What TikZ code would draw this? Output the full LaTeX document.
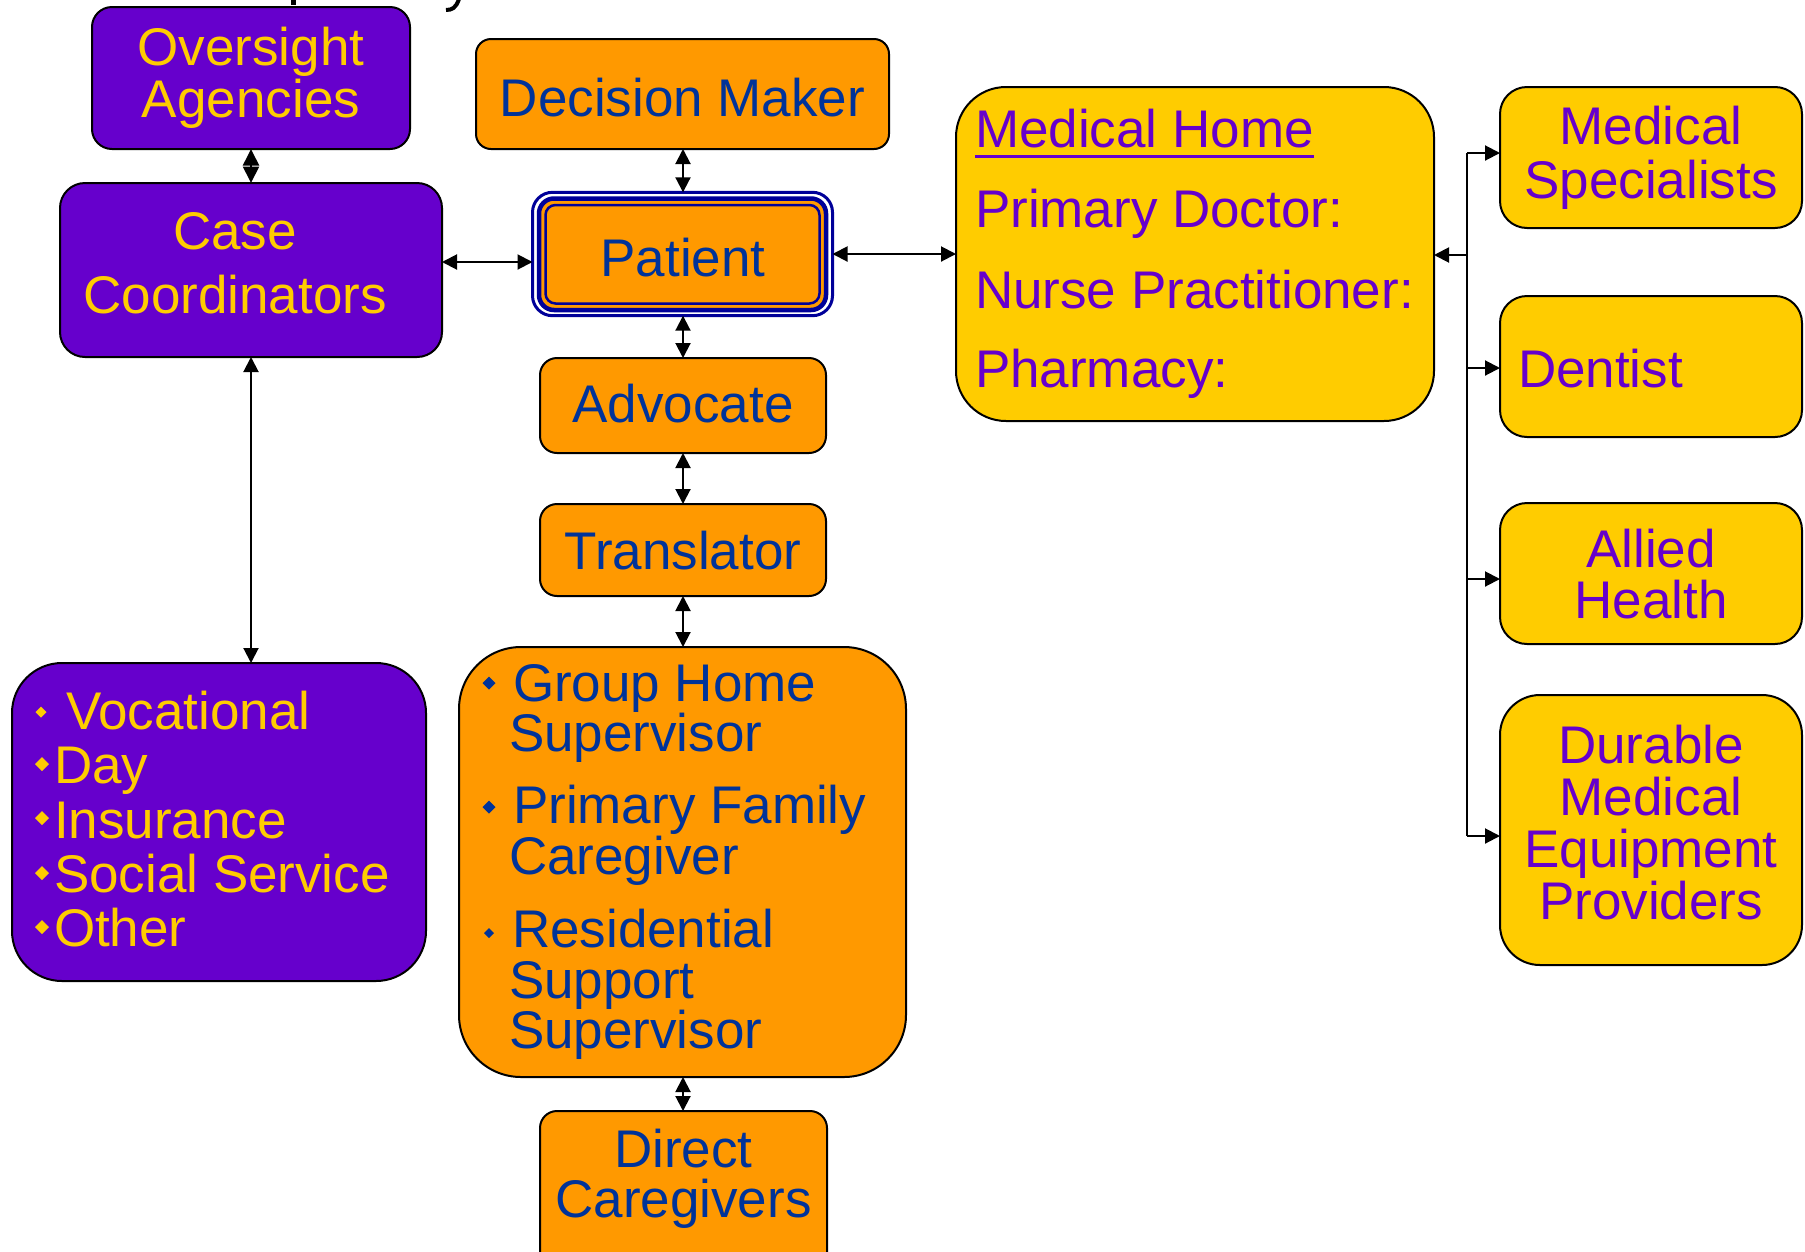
\documentclass[tikz,border=0pt]{standalone}
\usepackage{fontspec}
\setmainfont{Liberation Sans}
\usetikzlibrary{arrows.meta,calc}
\definecolor{purp}{HTML}{6600CC}
\definecolor{yel}{HTML}{FFCC00}
\definecolor{org}{HTML}{FF9900}
\definecolor{dblue}{HTML}{003399}
\definecolor{navy}{HTML}{000099}
\newcommand\bulx[4]{\fill[#4] (#1,#2) ++(0,-#3) -- ++(#3,#3) -- ++(-#3,#3) -- ++(-#3,-#3) -- cycle;}
\begin{document}
\begin{tikzpicture}[x=1pt,y=-1pt,
  box/.style={draw=black, line width=2pt, inner sep=0pt, outer sep=0pt},
  pbox/.style={box, fill=purp},
  obox/.style={box, fill=org},
  ybox/.style={box, fill=yel},
  txt/.style={anchor=base, inner sep=0pt, outer sep=0pt, font=\fontsize{53}{60}\selectfont},
  txtl/.style={txt, anchor=base west},
  dbl/.style={line width=2pt, {Triangle[length=15pt,width=15pt]}-{Triangle[length=15pt,width=15pt]}},
  dia/.style={line width=2pt, {Triangle[length=16.5pt,width=16pt]}-{Triangle[length=16.5pt,width=16pt]}},
  one/.style={line width=2pt, -{Triangle[length=15pt,width=15pt]}},
]
\useasboundingbox (0,0) rectangle (1805,1251);
\clip (0,0) rectangle (1805,1251);
\fill[white] (0,0) rectangle (1805,1251);

% title fragments cut at top edge
\fill[black] (290.5,-1) rectangle (295.5,5);
\draw[black, line width=4pt] (459,-1) .. controls (456,8) and (452,10) .. (446,10);

% boxes
\node[pbox, rounded corners=20pt, minimum width=318pt, minimum height=142pt] (over) at (251,78) {};
\node[obox, rounded corners=15pt, minimum width=413pt, minimum height=110pt] (dec) at (682.5,94) {};
\node[pbox, rounded corners=25pt, minimum width=382pt, minimum height=174pt] (case) at (251,270) {};
\node[draw=navy, line width=3pt, fill=white, rounded corners=20pt, minimum width=300pt, minimum height=123.4pt, inner sep=0pt, outer sep=0pt] (pat) at (682.5,254) {};
\draw[navy, line width=4.5pt, fill=org, rounded corners=15pt] (539,198.5) rectangle (826,310);
\draw[navy, line width=2.5pt, rounded corners=10pt] (545.5,205) rectangle (819.5,303.5);
\node[obox, rounded corners=17pt, minimum width=286pt, minimum height=95pt] (adv) at (683,405.5) {};
\node[obox, rounded corners=17pt, minimum width=286pt, minimum height=92pt] (tra) at (683,550) {};
\node[obox, rounded corners=62pt, minimum width=447pt, minimum height=430pt] (grp) at (682.5,862) {};
\node[obox, rounded corners=17pt, minimum width=287pt, minimum height=158pt] (dir) at (683.5,1190) {};
\node[pbox, rounded corners=50pt, minimum width=414pt, minimum height=318pt] (voc) at (219,822) {};
\node[ybox, rounded corners=50pt, minimum width=478pt, minimum height=334pt] (mh) at (1195,254) {};
\node[ybox, rounded corners=27pt, minimum width=302pt, minimum height=141pt] (ms) at (1651,157.5) {};
\node[ybox, rounded corners=27pt, minimum width=302pt, minimum height=141pt] (den) at (1651,366.5) {};
\node[ybox, rounded corners=27pt, minimum width=302pt, minimum height=141pt] (all) at (1651,573.5) {};
\node[ybox, rounded corners=40pt, minimum width=302pt, minimum height=270pt] (dme) at (1651,830) {};

% connectors
\coordinate (y262) at (0,262);
\coordinate (xc) at (683,0);
\draw[dia] (over.south) -- (case.north);
\draw[dbl] (xc |- dec.south) -- (xc |- pat.north);
\draw[dbl] (case.east |- y262) -- (pat.west |- y262);
\draw[dbl] (pat.east) -- (mh.west);
\draw[dbl] (xc |- pat.south) -- (xc |- adv.north);
\draw[dbl] (xc |- adv.south) -- (xc |- tra.north);
\draw[dbl] (xc |- tra.south) -- (xc |- grp.north);
\draw[dbl] (xc |- grp.south) -- (xc |- dir.north);
\draw[dbl] (case.south) -- (case.south |- voc.north);

\coordinate (b0) at (1467,255);
\coordinate (b1) at (1467,153);
\coordinate (b2) at (1467,368);
\coordinate (b3) at (1467,579);
\coordinate (b4) at (1467,836);
\draw[line width=2pt] (b1) -- (b4);
\draw[one] (b0) -- (mh.east |- b0);
\draw[one] (b1) -- (ms.west |- b1);
\draw[one] (b2) -- (den.west |- b2);
\draw[one] (b3) -- (all.west |- b3);
\draw[one] (b4) -- (dme.west |- b4);

% texts
\node[txt, text=yel] (t1) at (251,65) {Oversight};
\node[txt, text=yel] (t2) at (251,117) {Agencies};
\node[txt, text=dblue] (t3) at (682.5,116) {Decision Maker};
\node[txt, text=yel] (t4) at (235,249) {Case};
\node[txt, text=yel] (t5) at (235,313) {Coordinators};
\node[txt, text=dblue] (t6) at (683,276) {Patient};
\node[txt, text=dblue] (t7) at (683,422) {Advocate};
\node[txt, text=dblue] (t8) at (683,569) {Translator};

\bulx{489}{683}{6.5}{dblue}
\bulx{489}{807}{6.5}{dblue}
\bulx{489}{933}{5}{dblue}
\node[txtl, text=dblue] (g1) at (513,701) {Group Home};
\node[txtl, text=dblue] (g2) at (509,751) {Supervisor};
\node[txtl, text=dblue] (g3) at (513,823) {Primary Family};
\node[txtl, text=dblue] (g4) at (509,874) {Caregiver};
\node[txtl, text=dblue] (g5) at (512,947) {Residential};
\node[txtl, text=dblue] (g6) at (509,998) {Support};
\node[txtl, text=dblue] (g7) at (509,1048) {Supervisor};

\node[txt, text=dblue] (d1) at (683.5,1167) {Direct};
\node[txt, text=dblue] (d2) at (683.5,1217) {Caregivers};

\bulx{41}{712}{5.5}{yel}
\bulx{42}{764}{7}{yel}
\bulx{42}{818}{7}{yel}
\bulx{42}{873}{7}{yel}
\bulx{42}{927}{7}{yel}
\node[txtl, text=yel] (v1) at (66,729) {Vocational};
\node[txtl, text=yel] (v2) at (54,783) {Day};
\node[txtl, text=yel] (v3) at (54,838) {Insurance};
\node[txtl, text=yel] (v4) at (54,892) {Social Service};
\node[txtl, text=yel] (v5) at (54,946) {Other};

\node[txtl, text=purp] (m1) at (975,147) {Medical Home};
\draw[purp, line width=3pt] ($(m1.base west)+(0,9)$) -- ($(m1.base east)+(0,9)$);
\node[txtl, text=purp] (m2) at (975,227) {Primary Doctor:};
\node[txtl, text=purp] (m3) at (975,308) {Nurse Practitioner:};
\node[txtl, text=purp] (m4) at (975,387) {Pharmacy:};

\node[txt, text=purp] (s1) at (1651,144) {Medical};
\node[txt, text=purp] (s2) at (1651,198) {Specialists};
\node[txtl, text=purp] (s3) at (1518,387) {Dentist};
\node[txt, text=purp] (s4) at (1651,567) {Allied};
\node[txt, text=purp] (s5) at (1651,618) {Health};
\node[txt, text=purp] (s6) at (1651,763) {Durable};
\node[txt, text=purp] (s7) at (1651,815) {Medical};
\node[txt, text=purp] (s8) at (1651,867) {Equipment};
\node[txt, text=purp] (s9) at (1651,919) {Providers};
\end{tikzpicture}
\end{document}
